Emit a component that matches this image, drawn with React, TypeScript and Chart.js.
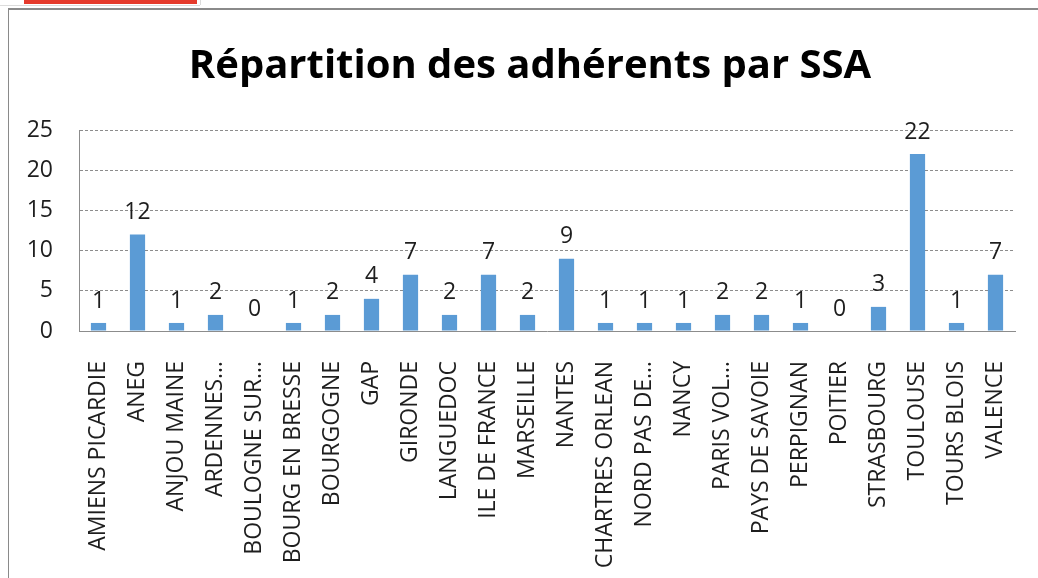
import React, { useEffect, useRef } from "react";
import { Chart, registerables } from "chart.js";

Chart.register(...registerables);

const TITLE = "Répartition des adhérents par SSA";

const categories: string[] = [
  "AMIENS PICARDIE",
  "ANEG",
  "ANJOU MAINE",
  "ARDENNES…",
  "BOULOGNE SUR…",
  "BOURG EN BRESSE",
  "BOURGOGNE",
  "GAP",
  "GIRONDE",
  "LANGUEDOC",
  "ILE DE FRANCE",
  "MARSEILLE",
  "NANTES",
  "CHARTRES ORLEAN",
  "NORD PAS DE…",
  "NANCY",
  "PARIS VOL…",
  "PAYS DE SAVOIE",
  "PERPIGNAN",
  "POITIER",
  "STRASBOURG",
  "TOULOUSE",
  "TOURS BLOIS",
  "VALENCE",
];

const values: number[] = [1, 12, 1, 2, 0, 1, 2, 4, 7, 2, 7, 2, 9, 1, 1, 1, 2, 2, 1, 0, 3, 22, 1, 7];

const yTicks: number[] = [0, 5, 10, 15, 20, 25];

const FONT = "'Open Sans', 'DejaVu Sans', sans-serif";
const TEXT = "#1e1e1e";

const labelsPlugin = {
  id: "valueLabels",
  afterDatasetsDraw(chart: any) {
    const ctx = chart.ctx;
    const meta = chart.getDatasetMeta(0);
    ctx.save();
    ctx.font = `23px ${FONT}`;
    ctx.fillStyle = TEXT;
    ctx.textAlign = "center";
    ctx.textBaseline = "middle";
    meta.data.forEach((bar: any, i: number) => {
      ctx.fillText(String(values[i]), bar.x, bar.y - 22);
    });
    ctx.restore();
  },
};

const titlePlugin = {
  id: "fixedTitle",
  afterDraw(chart: any) {
    const ctx = chart.ctx;
    ctx.save();
    ctx.font = `bold 40px ${FONT}`;
    ctx.fillStyle = "#000";
    ctx.textAlign = "center";
    ctx.textBaseline = "alphabetic";
    ctx.fillText(TITLE, 530, 78);
    ctx.restore();
  },
};

export default function App() {
  const ref = useRef<HTMLCanvasElement | null>(null);

  useEffect(() => {
    if (!ref.current) return;
    const chart = new Chart(ref.current, {
      type: "bar",
      data: {
        labels: categories,
        datasets: [
          {
            data: values,
            backgroundColor: "#5B9BD5",
            borderWidth: 0,
            barPercentage: 0.39,
            categoryPercentage: 1,
          },
        ],
      },
      options: {
        animation: false,
        responsive: false,
        layout: { padding: { left: 0, right: 23, top: 130, bottom: 0 } },
        plugins: {
          legend: { display: false },
          title: { display: false },
          tooltip: { enabled: false },
        },
        scales: {
          x: {
            grid: { display: false, drawTicks: false },
            border: { display: true, color: "#8c8c8c", width: 1 },
            ticks: {
              minRotation: 90,
              maxRotation: 90,
              autoSkip: false,
              padding: 30,
              color: TEXT,
              font: { family: FONT, size: 23 },
            },
            afterFit(scale: any) {
              scale.height = 247;
              scale.paddingLeft = 0;
              scale.paddingRight = 0;
            },
          },
          y: {
            min: 0,
            max: 25,
            afterBuildTicks(scale: any) {
              scale.ticks = yTicks.map((v) => ({ value: v }));
            },
            grid: {
              drawTicks: false,
              color: (c: any) => (c.tick && c.tick.value === 0 ? "rgba(0,0,0,0)" : "#8c8c8c"),
              lineWidth: 1,
            },
            border: { display: true, color: "#8c8c8c", width: 1, dash: [3, 2] },
            ticks: {
              padding: 26,
              color: TEXT,
              font: { family: FONT, size: 23 },
            },
            afterFit(scale: any) {
              scale.width = 79;
              scale.paddingTop = 0;
              scale.paddingBottom = 0;
            },
          },
        },
      },
      plugins: [labelsPlugin, titlePlugin],
    } as any);
    return () => chart.destroy();
  }, []);

  return (
    <div style={{ position: "absolute", left: 0, top: 0, width: 1038, height: 578, background: "#fff", overflow: "hidden" }}>
      <div style={{ position: "absolute", left: 0, top: 5, width: 200, height: 0, borderTop: "1px solid #dcdcdc" }} />
      <div style={{ position: "absolute", left: 200, top: 0, width: 0, height: 5, borderLeft: "1px solid #dcdcdc" }} />
      <div style={{ position: "absolute", left: 24, top: 0, width: 173, height: 4, background: "#e53a2c" }} />
      <div
        style={{
          position: "absolute",
          left: 8,
          top: 8,
          right: 0,
          bottom: 0,
          borderLeft: "1px solid #8a8a8a",
          borderTop: "2px solid #8a8a8a",
        }}
      />
      <canvas ref={ref} width={1038} height={578} style={{ position: "absolute", left: 0, top: 0 }} />
    </div>
  );
}
